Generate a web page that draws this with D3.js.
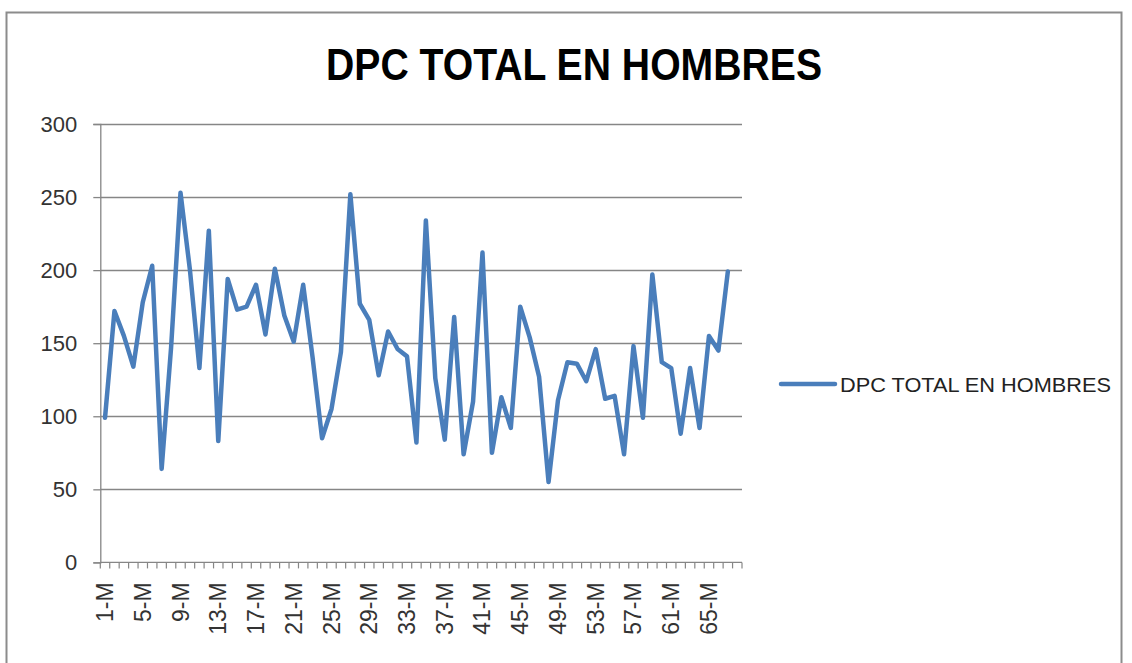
<!DOCTYPE html>
<html lang="es">
<head>
    <meta charset="UTF-8">
    <title>DPC TOTAL EN HOMBRES</title>
    <script src="https://d3js.org/d3.v7.min.js"></script>
    <style>
        body {
            margin: 0;
            padding: 0;
            background: #fff;
            font-family: "Liberation Sans", Arial, sans-serif;
        }
        svg { display: block; }
    </style>
</head>
<body>
    <div id="chart"></div>

    <script>
        const categories = [
            "1-M", "2-M", "3-M", "4-M", "5-M", "6-M", "7-M", "8-M", "9-M", "10-M",
            "11-M", "12-M", "13-M", "14-M", "15-M", "16-M", "17-M", "18-M", "19-M", "20-M",
            "21-M", "22-M", "23-M", "24-M", "25-M", "26-M", "27-M", "28-M", "29-M", "30-M",
            "31-M", "32-M", "33-M", "34-M", "35-M", "36-M", "37-M", "38-M", "39-M", "40-M",
            "41-M", "42-M", "43-M", "44-M", "45-M", "46-M", "47-M", "48-M", "49-M", "50-M",
            "51-M", "52-M", "53-M", "54-M", "55-M", "56-M", "57-M", "58-M", "59-M", "60-M",
            "61-M", "62-M", "63-M", "64-M", "65-M", "66-M", "67-M", "68-M"
        ];

        // last category has no value in the sheet
        const dpcHombres = [
            99, 172, 155, 134, 178, 203, 64, 147, 253, 200,
            133, 227, 83, 194, 173, 175, 190, 156, 201, 169,
            151, 190, 140, 85, 105, 144, 252, 177, 166, 128,
            158, 146, 141, 82, 234, 126, 84, 168, 74, 110,
            212, 75, 113, 92, 175, 154, 127, 55, 111, 137,
            136, 124, 146, 112, 114, 74, 148, 99, 197, 137,
            133, 88, 133, 92, 155, 145, 199, null
        ];

        const yTicks = [0, 50, 100, 150, 200, 250, 300];
        const seriesName = "DPC TOTAL EN HOMBRES";
        const title = "DPC TOTAL EN HOMBRES";

        const W = 1132, H = 663;
        const plot = { left: 100.3, right: 742, top: 124, bottom: 562.4 };
        const gray = "#868686";
        const blue = "#4a7ebb";

        const svg = d3.select("#chart").append("svg")
            .attr("width", W)
            .attr("height", H);

        // chart frame
        svg.append("rect")
            .attr("x", 6.5).attr("y", 12.5)
            .attr("width", 1115).attr("height", 700)
            .attr("fill", "none")
            .attr("stroke", "#8c8c8c")
            .attr("stroke-width", 2);

        svg.append("text")
            .attr("x", 574)
            .attr("y", 80)
            .attr("text-anchor", "middle")
            .attr("textLength", 496)
            .attr("lengthAdjust", "spacingAndGlyphs")
            .style("font-size", "44px")
            .style("font-weight", "bold")
            .style("fill", "#000")
            .text(title);

        const x = d3.scaleBand()
            .domain(categories)
            .range([plot.left, plot.right]);

        const y = d3.scaleLinear()
            .domain([0, 300])
            .range([plot.bottom, plot.top]);

        // gridlines
        svg.append("g")
            .selectAll("line")
            .data(yTicks.filter(d => d > 0))
            .enter()
            .append("line")
            .attr("x1", plot.left)
            .attr("x2", plot.right)
            .attr("y1", d => Math.round(y(d)) + 0.5)
            .attr("y2", d => Math.round(y(d)) + 0.5)
            .attr("stroke", gray)
            .attr("stroke-width", 1.3);

        // y axis
        const yAxis = svg.append("g")
            .attr("transform", `translate(${plot.left},0)`)
            .call(d3.axisLeft(y).tickValues(yTicks).tickSize(7).tickPadding(16));
        yAxis.select(".domain").attr("stroke", gray).attr("stroke-width", 1.3);
        yAxis.selectAll(".tick line").attr("stroke", gray).attr("stroke-width", 1.3);
        yAxis.selectAll("text")
            .style("font-family", "'Liberation Sans', Arial, sans-serif")
            .style("font-size", "22px")
            .style("fill", "#333");

        // x axis: ticks at band edges, labels every 4th category
        const xAxisG = svg.append("g")
            .attr("transform", `translate(0,${plot.bottom})`);
        xAxisG.append("line")
            .attr("x1", plot.left).attr("x2", plot.right)
            .attr("stroke", gray).attr("stroke-width", 1.3);
        xAxisG.selectAll("line.tk")
            .data(categories.concat(["end"]))
            .enter()
            .append("line")
            .attr("class", "tk")
            .attr("x1", (d, i) => i < categories.length ? x(d) : plot.right)
            .attr("x2", (d, i) => i < categories.length ? x(d) : plot.right)
            .attr("y1", 0)
            .attr("y2", 6)
            .attr("stroke", gray)
            .attr("stroke-width", 1.2);

        xAxisG.selectAll("text")
            .data(categories.filter((d, i) => i % 4 === 0))
            .enter()
            .append("text")
            .attr("transform", d => `translate(${x(d) + x.bandwidth() / 2 + 8},20) rotate(-90)`)
            .attr("text-anchor", "end")
            .style("font-size", "23px")
            .style("fill", "#333")
            .text(d => d);

        // series
        const line = d3.line()
            .defined(d => d.v != null)
            .x(d => x(d.c) + x.bandwidth() / 2)
            .y(d => y(d.v));

        svg.append("path")
            .datum(categories.map((c, i) => ({ c: c, v: dpcHombres[i] })))
            .attr("d", line)
            .attr("fill", "none")
            .attr("stroke", blue)
            .attr("stroke-width", 4.5)
            .attr("stroke-linejoin", "round")
            .attr("stroke-linecap", "round");

        // legend
        const legend = svg.append("g").attr("transform", "translate(781,384)");
        legend.append("line")
            .attr("x1", 0).attr("x2", 54)
            .attr("stroke", blue)
            .attr("stroke-width", 4.5)
            .attr("stroke-linecap", "round");
        legend.append("text")
            .attr("x", 59)
            .attr("y", 8)
            .attr("textLength", 271)
            .attr("lengthAdjust", "spacingAndGlyphs")
            .style("font-size", "21px")
            .style("fill", "#222")
            .text(seriesName);
    </script>
</body>
</html>
